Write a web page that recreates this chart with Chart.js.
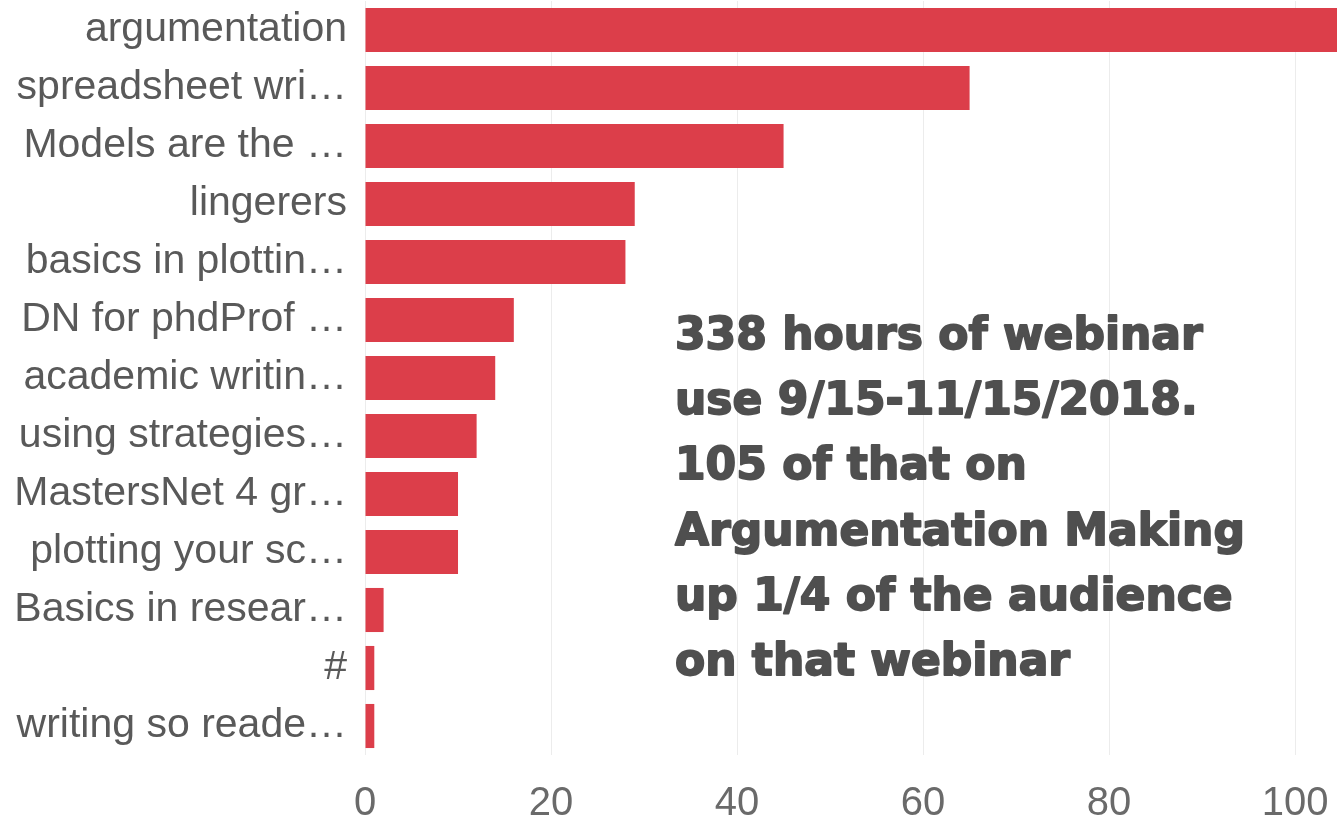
<!DOCTYPE html>
<html>
<head>
<meta charset="utf-8">
<script src="https://cdn.jsdelivr.net/npm/chart.js@4"></script>
<style>
  html, body { margin: 0; padding: 0; background: #fff; }
  #wrap { width: 1337px; height: 826px; position: relative; }
</style>
</head>
<body>
<div id="wrap"><canvas id="webinarChart"></canvas></div>
<script>
// webinar hours per topic, 9/15 - 11/15/2018
var topics = [
    'argumentation',
    'spreadsheet wri\u2026',
    'Models are the \u2026',
    'lingerers',
    'basics in plottin\u2026',
    'DN for phdProf \u2026',
    'academic writin\u2026',
    'using strategies\u2026',
    'MastersNet 4 gr\u2026',
    'plotting your sc\u2026',
    'Basics in resear\u2026',
    '#',
    'writing so reade\u2026'
];
var hours = [105, 65, 45, 29, 28, 16, 14, 12, 10, 10, 2, 1, 1];
var xTicks = [0, 20, 40, 60, 80, 100];

var noteLines = [
    '338 hours of webinar',
    'use 9/15-11/15/2018.',
    '105 of that on',
    'Argumentation Making',
    'up 1/4 of the audience',
    'on that webinar'
];

// the big grey note sitting over the chart
var notePlugin = {
    id: 'note',
    afterDraw: function (chart) {
        var c = chart.ctx;
        c.save();
        c.font = 'bold 44px "DejaVu Sans"';
        c.fillStyle = '#4f4f4f';
        c.strokeStyle = '#4f4f4f';
        c.lineWidth = 1.8; // a bit heavier, like the original
        c.lineJoin = 'round';
        c.textAlign = 'left';
        c.textBaseline = 'alphabetic';
        for (var i = 0; i < noteLines.length; i++) {
            var y = 349 + i * 65.2;
            c.fillText(noteLines[i], 675, y);
            c.strokeText(noteLines[i], 675, y);
        }
        c.restore();
    }
};

var ctx = document.getElementById('webinarChart').getContext('2d');
var chart = new Chart(ctx, {
    type: 'bar',
    data: {
        labels: topics,
        datasets: [{
            label: 'hours',
            data: hours,
            backgroundColor: '#dc3e4a',
            borderWidth: 0,
            categoryPercentage: 1,
            barPercentage: 0.76
        }]
    },
    options: {
        indexAxis: 'y',
        responsive: true,
        maintainAspectRatio: false,
        animation: false,
        layout: { padding: { top: 1, right: 0, left: 0, bottom: 0 } },
        plugins: {
            legend: { display: false },
            tooltip: { enabled: false }
        },
        scales: {
            x: {
                min: 0,
                max: 104.5,
                afterBuildTicks: function (axis) {
                    axis.ticks = xTicks.map(function (v) { return { value: v }; });
                },
                afterFit: function (axis) {
                    axis.height = 71;
                    axis.paddingLeft = 0;
                    axis.paddingRight = 0;
                },
                grid: { color: '#ececec', lineWidth: 1, drawTicks: false },
                border: { display: false },
                ticks: {
                    color: '#6a6a6a',
                    padding: 25,
                    maxRotation: 0,
                    font: { family: '"Liberation Sans", Arial', size: 40 }
                }
            },
            y: {
                afterFit: function (axis) {
                    axis.width = 365;
                    axis.paddingTop = 0;
                    axis.paddingBottom = 0;
                },
                grid: { display: false, drawTicks: false },
                border: { display: false },
                ticks: {
                    color: '#595959',
                    padding: 18,
                    autoSkip: false,
                    font: { family: '"Liberation Sans", Arial', size: 41 }
                }
            }
        }
    },
    plugins: [notePlugin]
});
</script>
</body>
</html>
